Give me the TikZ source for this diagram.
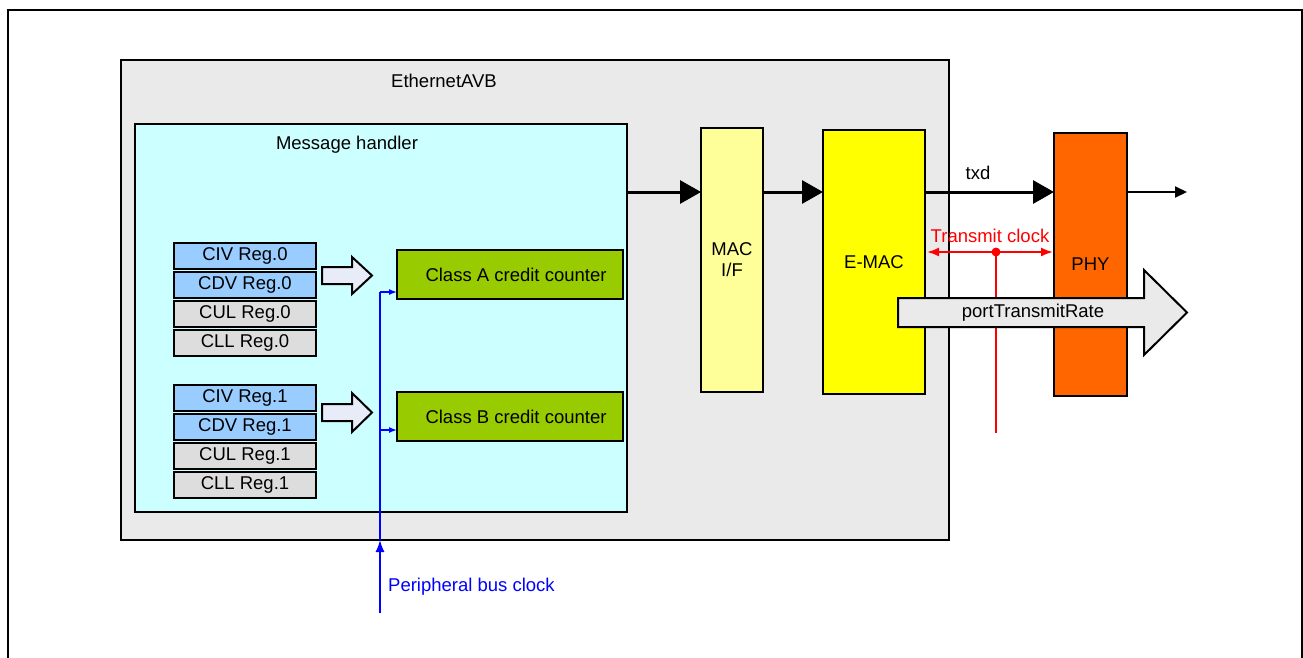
\documentclass[tikz,border=0pt]{standalone}
\usepackage{fontspec}
\setmainfont{Liberation Sans}
\usetikzlibrary{arrows.meta}
\definecolor{avbgray}{RGB}{234,234,234}
\definecolor{mhcyan}{RGB}{204,255,255}
\definecolor{regblue}{RGB}{153,204,255}
\definecolor{reggray}{RGB}{221,221,221}
\definecolor{clgreen}{RGB}{153,204,0}
\definecolor{macyellow}{RGB}{255,255,153}
\definecolor{emacyellow}{RGB}{255,255,0}
\definecolor{phyorange}{RGB}{255,102,0}
\definecolor{blockfill}{RGB}{232,236,248}
\definecolor{clkblue}{RGB}{0,0,255}
\definecolor{clkred}{RGB}{255,0,0}
\begin{document}
\begin{tikzpicture}[x=1pt,y=-1pt,
  font=\fontsize{18.5}{22}\selectfont,
  box/.style={draw=black, line width=2pt, inner sep=0pt, outer sep=0pt, anchor=north west, align=center},
  regbox/.style={box, minimum width=142pt, minimum height=26pt},
  blockarrow/.style={draw=black, line width=2pt, fill=blockfill, line join=miter},
  bigarrow/.style={line width=3pt, -{Triangle[length=21pt,width=23pt]}},
  bluearrow/.style={draw=clkblue, line width=1.5pt},
  lbl/.style={inner sep=0pt}]
\useasboundingbox (0,0) rectangle (1303,657);
\fill[white] (0,0) rectangle (1303,657);
\draw[line width=2pt] (8,660) -- (8,10) -- (1302,10) -- (1302,660);

% containers
\node[box, fill=avbgray, minimum width=828pt, minimum height=480pt] (avb) at (121,60) {};
\node[lbl] (avblbl) at (444,81) {EthernetAVB};
\node[box, fill=mhcyan, minimum width=492pt, minimum height=388pt] (mh) at (135,124) {};
\node[lbl] (mhlbl) at (347,145) {Message handler};

% registers
\node[regbox, fill=regblue] (civ0) at (174,243) {CIV Reg.0};
\node[regbox, fill=regblue] (cdv0) at (174,272) {CDV Reg.0};
\node[regbox, fill=reggray] (cul0) at (174,301) {CUL Reg.0};
\node[regbox, fill=reggray] (cll0) at (174,330) {CLL Reg.0};
\node[regbox, fill=regblue] (civ1) at (174,385) {CIV Reg.1};
\node[regbox, fill=regblue] (cdv1) at (174,414) {CDV Reg.1};
\node[regbox, fill=reggray] (cul1) at (174,443) {CUL Reg.1};
\node[regbox, fill=reggray] (cll1) at (174,472) {CLL Reg.1};

% block arrows
\draw[blockarrow] (322,267) -- (352,267) -- (352,257) -- (372,275.5) -- (352,294) -- (352,284) -- (322,284) -- cycle;
\draw[blockarrow] (322,404) -- (352,404) -- (352,393) -- (372,412.5) -- (352,432) -- (352,421) -- (322,421) -- cycle;

% credit counters
\node[box, fill=clgreen, minimum width=226pt, minimum height=49pt] (cla) at (397,250) {\hspace*{12pt}Class A credit counter};
\node[box, fill=clgreen, minimum width=226pt, minimum height=49pt] (clb) at (397,392) {\hspace*{12pt}Class B credit counter};

% MAC, E-MAC, PHY
\node[box, fill=macyellow, minimum width=62pt, minimum height=264pt] (macif) at (701,128) {MAC\\[-1pt]I/F};
\node[box, fill=emacyellow, minimum width=102pt, minimum height=264pt] (emac) at (823,130) {E-MAC};
\node[box, fill=phyorange, minimum width=73pt, minimum height=263pt] (phy) at (1054,133) {PHY};

% data path
\coordinate (row) at (0,192);
\coordinate (outend) at (1187,192);
\draw[bigarrow] (mh.east |- row) -- (macif.west |- row);
\draw[bigarrow] (macif.east |- row) -- (emac.west |- row);
\draw[bigarrow] (emac.east |- row) -- (phy.west |- row);
\node[lbl] (txd) at (978,173) {txd};
\draw[line width=2pt, -{Triangle[length=12pt,width=11pt]}] (phy.east |- row) -- (outend);

% transmit clock
\coordinate (tcy) at (0,252);
\coordinate (tcdot) at (996,252);
\coordinate (tcend) at (996,433);
\draw[clkred, line width=2pt] (tcdot) -- (tcend);
\draw[clkred, line width=2pt, {Latex[length=12pt,width=9pt]}-{Latex[length=12pt,width=9pt]}] ([xshift=2pt]emac.east |- tcy) -- ([xshift=-1pt]phy.west |- tcy);
\fill[clkred] (tcdot) circle (4.5pt);
\node[lbl, text=clkred] (tclbl) at (990,236) {Transmit clock};

% portTransmitRate arrow
\draw[blockarrow, fill=avbgray] (898,298) -- (1144,298) -- (1144,270) -- (1187,312.5) -- (1144,355) -- (1144,327) -- (898,327) -- cycle;
\node[lbl] (ptr) at (1033,313) {portTransmitRate};

% peripheral bus clock
\coordinate (pbc) at (380,613);
\coordinate (pbtop) at (380,292);
\coordinate (pbb) at (380,430);
\draw[bluearrow, -{Latex[length=12pt,width=9pt]}] (pbc) -- (pbc |- avb.south);
\draw[bluearrow] (pbc |- avb.south) -- (pbtop);
\draw[bluearrow, -{Latex[length=8pt,width=6pt]}] (pbtop) -- (cla.west |- pbtop);
\draw[bluearrow, -{Latex[length=8pt,width=6pt]}] (pbb) -- (clb.west |- pbb);
\node[lbl, anchor=west, text=clkblue] (pbclbl) at (388,587) {Peripheral bus clock};
\end{tikzpicture}
\end{document}
